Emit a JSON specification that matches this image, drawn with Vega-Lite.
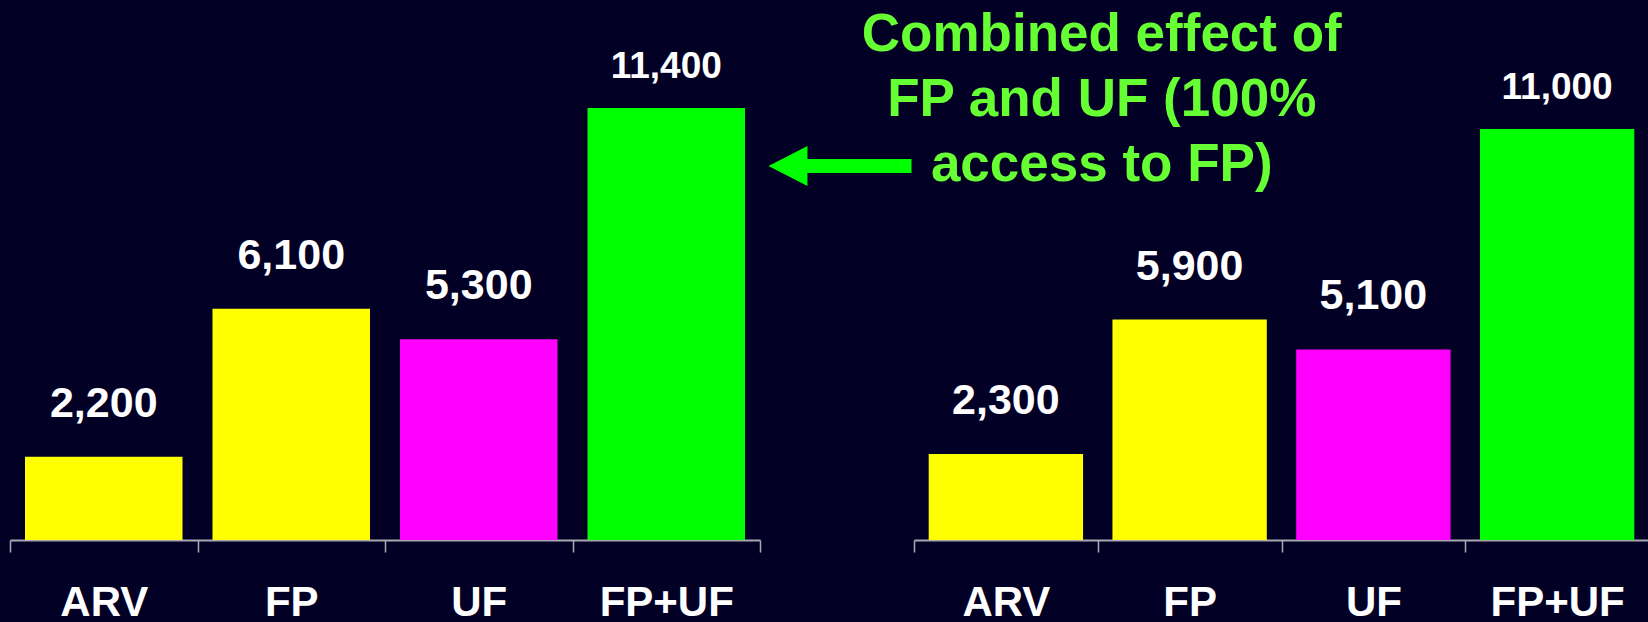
{
  "$schema": "https://vega.github.io/schema/vega-lite/v6.json",
  "background": "#030026",
  "padding": {"left": 9, "top": 0, "right": 0, "bottom": 0},
  "autosize": {"type": "pad"},
  "bounds": "flush",
  "spacing": 154,
  "config": {
    "view": {"stroke": null},
    "font": "Liberation Sans",
    "axisX": {
      "domainColor": "#a8a8b0",
      "domainWidth": 2,
      "tickColor": "#a8a8b0",
      "tickWidth": 1.5,
      "tickSize": 12,
      "tickBand": "extent",
      "labelAngle": 0,
      "labelFontSize": 42,
      "labelFontWeight": "bold",
      "labelColor": "#ffffff",
      "labelPadding": 30,
      "grid": false,
      "title": null
    }
  },
  "datasets": {
    "left": [
      {"category": "ARV", "value": 2200},
      {"category": "FP", "value": 6100},
      {"category": "UF", "value": 5300},
      {"category": "FP+UF", "value": 11400}
    ],
    "right": [
      {"category": "ARV", "value": 2300},
      {"category": "FP", "value": 5900},
      {"category": "UF", "value": 5100},
      {"category": "FP+UF", "value": 11000}
    ]
  },
  "hconcat": [
    {
      "width": 750,
      "height": 540,
      "layer": [
        {
          "data": {"name": "left"},
          "mark": {"type": "bar", "width": {"band": 0.84}},
          "encoding": {
            "x": {"field": "category", "type": "nominal", "sort": ["ARV", "FP", "UF", "FP+UF"], "scale": {"paddingInner": 0, "paddingOuter": 0}},
            "y": {"field": "value", "type": "quantitative", "scale": {"domain": [0, 14250], "nice": false}, "axis": null},
            "color": {"field": "category", "type": "nominal", "scale": {"domain": ["ARV", "FP", "UF", "FP+UF"], "range": ["#ffff00", "#ffff00", "#ff00ff", "#00ff00"]}, "legend": null}
          }
        },
        {
          "data": {"name": "left"},
          "transform": [{"filter": "datum.category !== 'FP+UF'"}],
          "mark": {"type": "text", "fontSize": 43, "fontWeight": "bold", "color": "#ffffff", "baseline": "alphabetic", "dy": -40},
          "encoding": {
            "x": {"field": "category", "type": "nominal", "sort": ["ARV", "FP", "UF", "FP+UF"]},
            "y": {"field": "value", "type": "quantitative"},
            "text": {"field": "value", "type": "quantitative", "format": ","}
          }
        },
        {
          "data": {"name": "left"},
          "transform": [{"filter": "datum.category === 'FP+UF'"}],
          "mark": {"type": "text", "fontSize": 37, "fontWeight": "bold", "color": "#ffffff", "baseline": "alphabetic", "dy": -30},
          "encoding": {
            "x": {"field": "category", "type": "nominal", "sort": ["ARV", "FP", "UF", "FP+UF"]},
            "y": {"field": "value", "type": "quantitative"},
            "text": {"field": "value", "type": "quantitative", "format": ","}
          }
        },
        {
          "data": {"values": [{"level": 9870}]},
          "mark": {"type": "point", "shape": "M -1 0 L -0.455 -0.28 L -0.455 -0.098 L 1 -0.098 L 1 0.098 L -0.455 0.098 L -0.455 0.28 Z", "size": 20449, "filled": true, "color": "#00ff00", "opacity": 1, "strokeWidth": 0, "xOffset": 80},
          "encoding": {
            "x": {"datum": "FP+UF", "type": "nominal", "bandPosition": 1},
            "y": {"field": "level", "type": "quantitative"}
          }
        }
      ]
    },
    {
      "width": 735,
      "height": 540,
      "layer": [
        {
          "data": {"name": "right"},
          "mark": {"type": "bar", "width": {"band": 0.84}},
          "encoding": {
            "x": {"field": "category", "type": "nominal", "sort": ["ARV", "FP", "UF", "FP+UF"], "scale": {"paddingInner": 0, "paddingOuter": 0}},
            "y": {"field": "value", "type": "quantitative", "scale": {"domain": [0, 14450], "nice": false}, "axis": null},
            "color": {"field": "category", "type": "nominal", "scale": {"domain": ["ARV", "FP", "UF", "FP+UF"], "range": ["#ffff00", "#ffff00", "#ff00ff", "#00ff00"]}, "legend": null}
          }
        },
        {
          "data": {"name": "right"},
          "transform": [{"filter": "datum.category !== 'FP+UF'"}],
          "mark": {"type": "text", "fontSize": 43, "fontWeight": "bold", "color": "#ffffff", "baseline": "alphabetic", "dy": -40},
          "encoding": {
            "x": {"field": "category", "type": "nominal", "sort": ["ARV", "FP", "UF", "FP+UF"]},
            "y": {"field": "value", "type": "quantitative"},
            "text": {"field": "value", "type": "quantitative", "format": ","}
          }
        },
        {
          "data": {"name": "right"},
          "transform": [{"filter": "datum.category === 'FP+UF'"}],
          "mark": {"type": "text", "fontSize": 37, "fontWeight": "bold", "color": "#ffffff", "baseline": "alphabetic", "dy": -30},
          "encoding": {
            "x": {"field": "category", "type": "nominal", "sort": ["ARV", "FP", "UF", "FP+UF"]},
            "y": {"field": "value", "type": "quantitative"},
            "text": {"field": "value", "type": "quantitative", "format": ","}
          }
        },
        {
          "data": {"values": [{"note": "Combined effect of\nFP and UF (100%\naccess to FP)", "level": 13510}]},
          "mark": {"type": "text", "fontSize": 53, "fontWeight": "bold", "color": "#66ff33", "lineBreak": "\n", "lineHeight": 65, "baseline": "middle", "align": "center", "xOffset": 4},
          "encoding": {
            "x": {"datum": "FP", "type": "nominal", "bandPosition": 0},
            "y": {"field": "level", "type": "quantitative"},
            "text": {"field": "note", "type": "nominal"}
          }
        }
      ]
    }
  ]
}
